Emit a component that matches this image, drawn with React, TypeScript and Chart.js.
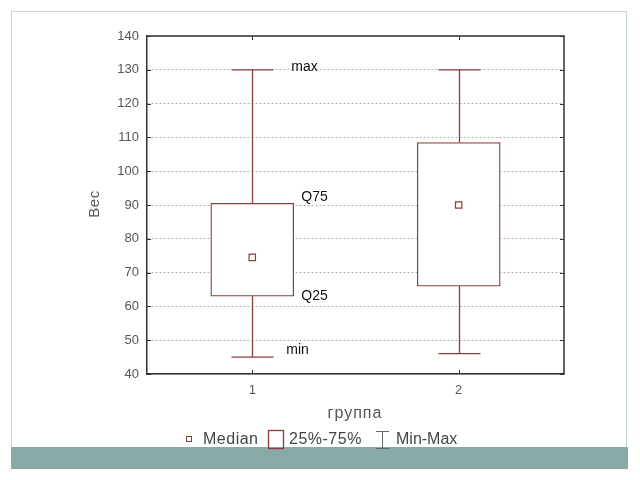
import React, { useEffect, useRef } from "react";
import { Chart, registerables } from "chart.js";

Chart.register(...registerables);

const groups = [1, 2];
const groupLabels = ["1", "2"];
const mins = [45, 46];
const q25 = [63, 66];
const medians = [74.5, 90];
const q75 = [90.5, 108.5];
const maxs = [130, 130];
const yTicks = [40, 50, 60, 70, 80, 90, 100, 110, 120, 130, 140];
const annotationTexts = ["max", "Q75", "Q25", "min"];
const annotationValues = [130, 90.5, 63, 45];
const legendTexts = ["Median", "25%-75%", "Min-Max"];

const BOX = "#8e3b3b";
const FONT = "'Liberation Sans', Arial, sans-serif";

const decor = {
  id: "decor",
  beforeDatasetsDraw(chart: any) {
    const { ctx, scales } = chart;
    const x = scales.x, y = scales.y;
    ctx.save();
    ctx.strokeStyle = BOX;
    ctx.lineWidth = 1.3;
    groups.forEach((g, i) => {
      const px = Math.round(x.getPixelForValue(g)) + 0.5;
      const capHalf = 21;
      const yMax = y.getPixelForValue(maxs[i]);
      const yMin = y.getPixelForValue(mins[i]);
      ctx.beginPath();
      ctx.moveTo(px, y.getPixelForValue(q75[i]));
      ctx.lineTo(px, yMax);
      ctx.moveTo(px - capHalf, yMax);
      ctx.lineTo(px + capHalf, yMax);
      ctx.moveTo(px, y.getPixelForValue(q25[i]));
      ctx.lineTo(px, yMin);
      ctx.moveTo(px - capHalf, yMin);
      ctx.lineTo(px + capHalf, yMin);
      ctx.stroke();
    });
    ctx.restore();
  },
  afterDraw(chart: any) {
    const { ctx, scales, chartArea } = chart;
    const x = scales.x, y = scales.y;
    const { left, right, top, bottom } = chartArea;
    ctx.save();
    ctx.strokeStyle = "#333";
    ctx.lineWidth = 1.5;
    ctx.beginPath();
    ctx.moveTo(left, top);
    ctx.lineTo(right, top);
    ctx.lineTo(right, bottom);
    ctx.stroke();
    ctx.lineWidth = 1;
    ctx.beginPath();
    yTicks.forEach((v) => {
      const py = Math.round(y.getPixelForValue(v)) + 0.5;
      ctx.moveTo(left, py);
      ctx.lineTo(left + 4, py);
      ctx.moveTo(right, py);
      ctx.lineTo(right - 4, py);
    });
    groups.forEach((g) => {
      const px = Math.round(x.getPixelForValue(g)) + 0.5;
      ctx.moveTo(px, bottom);
      ctx.lineTo(px, bottom - 4);
      ctx.moveTo(px, top);
      ctx.lineTo(px, top + 4);
    });
    ctx.stroke();

    ctx.fillStyle = "#111";
    ctx.font = `14px ${FONT}`;
    ctx.textBaseline = "middle";
    ctx.textAlign = "left";
    const cx = x.getPixelForValue(groups[0]);
    const dx = [39, 49, 49, 34];
    const dy = [-3, -6, 0, -7];
    annotationTexts.forEach((t, i) => {
      ctx.fillText(t, cx + dx[i], y.getPixelForValue(annotationValues[i]) + dy[i]);
    });

    ctx.fillStyle = "#555";
    ctx.font = `16px ${FONT}`;
    (ctx as any).letterSpacing = "1px";
    ctx.textAlign = "center";
    ctx.fillText("группа", 355, 414);
    (ctx as any).letterSpacing = "0.5px";
    ctx.save();
    ctx.translate(95, 204);
    ctx.rotate(-Math.PI / 2);
    ctx.font = `15px ${FONT}`;
    ctx.fillText("Вес", 0, 0);
    ctx.restore();

    ctx.font = `16px ${FONT}`;
    ctx.textAlign = "left";
    ctx.fillStyle = "#444";
    const ly = 440;
    ctx.strokeStyle = BOX;
    ctx.lineWidth = 1;
    ctx.strokeRect(186.5, 436.5, 5, 5);
    ctx.fillText(legendTexts[0], 203, ly);
    ctx.lineWidth = 1.3;
    ctx.strokeRect(268.5, 430.5, 15, 18);
    ctx.fillText(legendTexts[1], 289, ly);
    ctx.strokeStyle = "#666";
    ctx.lineWidth = 1;
    ctx.beginPath();
    ctx.moveTo(382.5, 431);
    ctx.lineTo(382.5, 449);
    ctx.moveTo(376, 431.5);
    ctx.lineTo(389, 431.5);
    ctx.moveTo(376, 448.5);
    ctx.lineTo(389, 448.5);
    ctx.stroke();
    (ctx as any).letterSpacing = "0px";
    ctx.fillText(legendTexts[2], 396, ly);
    ctx.restore();
  },
};

export default function App() {
  const ref = useRef<HTMLCanvasElement>(null);
  useEffect(() => {
    if (!ref.current) return;
    const chart = new Chart(ref.current, {
      type: "bar",
      data: {
        datasets: [
          {
            type: "scatter",
            order: 1,
            data: groups.map((g, i) => ({ x: g, y: medians[i] })),
            pointStyle: "rect",
            pointRadius: 4.5,
            pointBackgroundColor: "#fff",
            pointBorderColor: BOX,
            pointBorderWidth: 1.2,
          } as any,
          {
            type: "bar",
            order: 2,
            data: groups.map((g, i) => ({ x: g, y: [q25[i], q75[i]] })) as any,
            backgroundColor: "rgba(255,255,255,1)",
            borderColor: BOX,
            borderWidth: 1.3,
            borderSkipped: false,
            barThickness: 83,
          } as any,
        ],
      },
      options: {
        animation: false,
        responsive: false,
        layout: { padding: { left: 0, top: 36, right: 76, bottom: 0 } },
        plugins: { legend: { display: false }, tooltip: { enabled: false } },
        scales: {
          x: {
            type: "linear",
            offset: false,
            min: 0.49,
            max: 2.51,
            afterBuildTicks: (s: any) => {
              s.ticks = groups.map((g) => ({ value: g }));
            },
            afterFit: (s: any) => {
              s.height = 106;
            },
            ticks: {
              callback: (v: any) => groupLabels[groups.indexOf(Number(v))] ?? "",
              color: "#555",
              font: { family: FONT, size: 13 },
              padding: 9,
              maxRotation: 0,
            },
            grid: { display: false, drawTicks: false, offset: false },
            border: { display: true, color: "#333", width: 1.5 },
          },
          y: {
            type: "linear",
            min: 40,
            max: 140,
            afterBuildTicks: (s: any) => {
              s.ticks = yTicks.map((v) => ({ value: v }));
            },
            afterFit: (s: any) => {
              s.width = 147;
            },
            ticks: {
              color: "#555",
              font: { family: FONT, size: 13 },
              padding: 8,
            },
            grid: {
              color: "#b4b4b4",
              lineWidth: 1,
              drawTicks: false,
            },
            border: { display: true, color: "#333", width: 1.5, dash: [2, 2] } as any,
          },
        },
      } as any,
      plugins: [decor],
    });
    return () => chart.destroy();
  }, []);

  return (
    <div style={{ position: "fixed", left: 0, top: 0, width: 640, height: 480, background: "#fff" }}>
      <div
        style={{
          position: "absolute",
          left: 11,
          top: 11,
          width: 616,
          height: 458,
          border: "1px solid #c4d6d3",
          boxSizing: "border-box",
        }}
      />
      <div
        style={{
          position: "absolute",
          left: 11,
          top: 447,
          width: 617,
          height: 22,
          background: "#87aaa7",
        }}
      />
      <canvas ref={ref} width={640} height={480} style={{ position: "absolute", left: 0, top: 0 }} />
    </div>
  );
}
